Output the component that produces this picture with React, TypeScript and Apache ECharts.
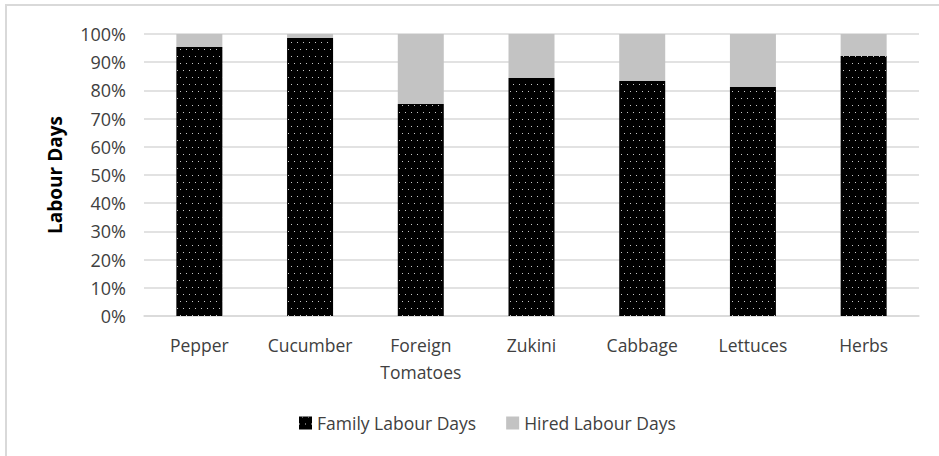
import React, { useEffect, useRef } from "react";
import * as echarts from "echarts";

const categories = ["Pepper", "Cucumber", "Foreign\nTomatoes", "Zukini", "Cabbage", "Lettuces", "Herbs"];
const familyShare = [95.4, 98.6, 75.2, 84.4, 83.3, 81.2, 92.2];
const hiredShare = familyShare.map((v) => +(100 - v).toFixed(1));
const yTicks = [0, 10, 20, 30, 40, 50, 60, 70, 80, 90, 100];

const FONT = "'Open Sans', 'Noto Sans', sans-serif";

export default function App() {
  const ref = useRef<HTMLDivElement>(null);
  useEffect(() => {
    if (!ref.current) return;
    const chart = echarts.init(ref.current, null, { renderer: "svg" });
    chart.setOption({
      animation: false,
      backgroundColor: "#ffffff",
      grid: { left: 144, right: 20, top: 34, bottom: 140 },
      legend: {
        top: 409,
        left: 294,
        itemWidth: 13,
        itemHeight: 13,
        itemGap: 30,
        icon: "rect",
        textStyle: { fontFamily: FONT, fontSize: 17.5, color: "#404040" },
        data: ["Family Labour Days", "Hired Labour Days"],
      },
      xAxis: {
        type: "category",
        data: categories,
        axisLine: { lineStyle: { color: "#d9d9d9", width: 1.5 } },
        axisTick: { show: false },
        axisLabel: { interval: 0, fontFamily: FONT, fontSize: 17.5, color: "#404040", margin: 15, lineHeight: 27 },
      },
      yAxis: {
        type: "value",
        min: 0,
        max: 100,
        interval: 10,
        name: "Labour Days",
        nameLocation: "middle",
        nameGap: 80,
        nameTextStyle: { fontFamily: FONT, fontSize: 19, fontWeight: "bold", color: "#000" },
        axisLine: { show: false },
        axisTick: { show: false },
        axisLabel: {
          fontFamily: FONT,
          fontSize: 18,
          color: "#404040",
          margin: 18,
          formatter: (v: number) => (yTicks.includes(v) ? v + "%" : ""),
        },
        splitLine: { lineStyle: { color: "#d9d9d9", width: 1.5 } },
      },
      series: [
        {
          name: "Family Labour Days",
          type: "bar",
          stack: "total",
          barWidth: 46,
          data: familyShare,
          itemStyle: {
            color: "#000000",
            decal: {
              symbol: "rect",
              symbolSize: 1,
              color: "#c8c8c8",
              dashArrayX: [[1, 5], [0, 3, 1, 2]],
              dashArrayY: [1, 5.5],
              rotation: 0,
            },
          },
        },
        {
          name: "Hired Labour Days",
          type: "bar",
          stack: "total",
          barWidth: 46,
          data: hiredShare,
          itemStyle: { color: "#c3c3c3" },
        },
      ],
      graphic: [
        { type: "rect", shape: { x: 5, y: 4, width: 940, height: 2 }, style: { fill: "#d9d9d9" } },
        { type: "rect", shape: { x: 5, y: 4, width: 2, height: 460 }, style: { fill: "#d9d9d9" } },
      ],
    });
    return () => chart.dispose();
  }, []);
  return (
    <div
      ref={ref}
      style={{ position: "absolute", left: 0, top: 0, width: 939, height: 456 }}
    />
  );
}
